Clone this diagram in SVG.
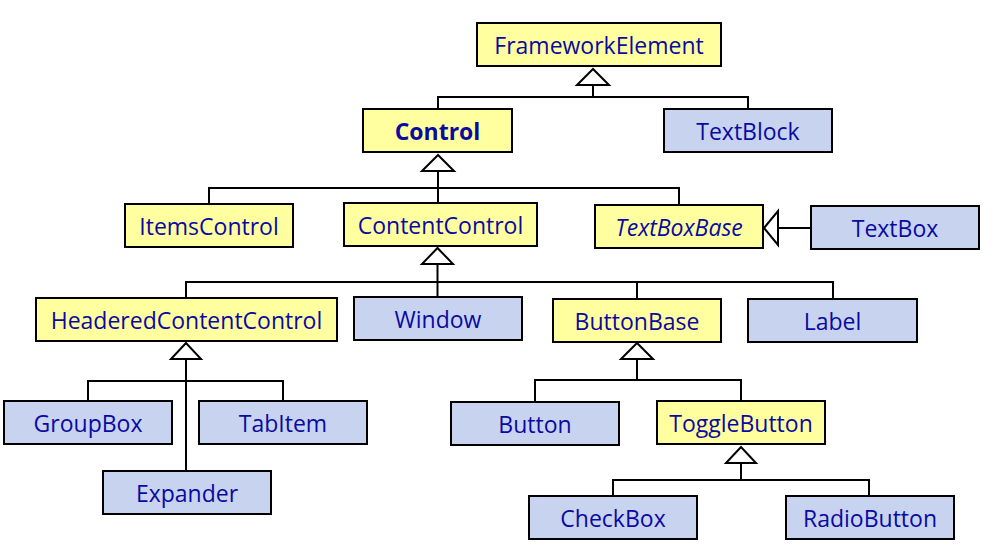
<svg xmlns="http://www.w3.org/2000/svg" width="996" height="554" viewBox="0 0 996 554">
<style>
rect{stroke:#000;stroke-width:2}
.y{fill:#FFFF9F}
.b{fill:#C8D3F0}
text{font-family:"Open Sans","Liberation Sans",sans-serif;font-size:23px;fill:#0A0AA0;text-anchor:middle;dominant-baseline:central}
.bold{font-weight:bold}
.it{font-style:italic}
.c path{fill:none;stroke:#000;stroke-width:2}
.c polygon{fill:#fff;stroke:#000;stroke-width:2;stroke-linejoin:miter}
</style>
<rect width="996" height="554" fill="#fff" style="stroke:none"/>
<g class="c" id="connectors">
<path d="M593,85V97M438,109V97H748V109"/>
<polygon points="593,69 577,85 609,85"/>
<path d="M438,171V203M209,204V188H679V205"/>
<polygon points="438,155 422,171 454,171"/>
<path d="M778,228H811"/>
<polygon points="764,228 778,211 778,245"/>
<path d="M437.5,264V297M186,298V282H833V299M637,282V299"/>
<polygon points="437.5,248 422,264 453,264"/>
<path d="M186,359V471M88,401V381H283V401"/>
<polygon points="186,343 171,359 201,359"/>
<path d="M637,359V380M535,402V380H741V401"/>
<polygon points="637,343 621,359 653,359"/>
<path d="M741,463V480M613,496V480H869V496"/>
<polygon points="741,447 726,463 756,463"/>
</g>
<g id="FrameworkElement"><rect class="y" x="477" y="23" width="244" height="43"/><text x="599" y="44.5">FrameworkElement</text></g>
<g id="Control"><rect class="y" x="363" y="109" width="149" height="43"/><text class="bold" x="437.5" y="130.5">Control</text></g>
<g id="TextBlock"><rect class="b" x="664" y="109" width="168" height="43"/><text x="748" y="130.5">TextBlock</text></g>
<g id="ItemsControl"><rect class="y" x="125" y="204" width="168" height="43"/><text x="209" y="225.5">ItemsControl</text></g>
<g id="ContentControl"><rect class="y" x="344" y="203" width="193" height="43"/><text x="440.5" y="224.5">ContentControl</text></g>
<g id="TextBoxBase"><rect class="y" x="595" y="205" width="168" height="43"/><text class="it" x="679" y="226.5">TextBoxBase</text></g>
<g id="TextBox"><rect class="b" x="811" y="206" width="168" height="43"/><text x="895" y="227.5">TextBox</text></g>
<g id="HeaderedContentControl"><rect class="y" x="36" y="298" width="301" height="43"/><text x="186.5" y="319.5">HeaderedContentControl</text></g>
<g id="Window"><rect class="b" x="354" y="297" width="168" height="43"/><text x="438" y="318.5">Window</text></g>
<g id="ButtonBase"><rect class="y" x="553" y="299" width="168" height="43"/><text x="637" y="320.5">ButtonBase</text></g>
<g id="Label"><rect class="b" x="748" y="299" width="169" height="43"/><text x="832.5" y="320.5">Label</text></g>
<g id="GroupBox"><rect class="b" x="4" y="401" width="168" height="43"/><text x="88" y="422.5">GroupBox</text></g>
<g id="TabItem"><rect class="b" x="199" y="401" width="168" height="43"/><text x="283" y="422.5">TabItem</text></g>
<g id="Expander"><rect class="b" x="103" y="471" width="168" height="43"/><text x="187" y="492.5">Expander</text></g>
<g id="Button"><rect class="b" x="451" y="402" width="168" height="43"/><text x="535" y="423.5">Button</text></g>
<g id="ToggleButton"><rect class="y" x="657" y="401" width="168" height="43"/><text x="741" y="422.5">ToggleButton</text></g>
<g id="CheckBox"><rect class="b" x="529" y="496" width="168" height="43"/><text x="613" y="517.5">CheckBox</text></g>
<g id="RadioButton"><rect class="b" x="786" y="496" width="168" height="43"/><text x="870" y="517.5">RadioButton</text></g>
</svg>
